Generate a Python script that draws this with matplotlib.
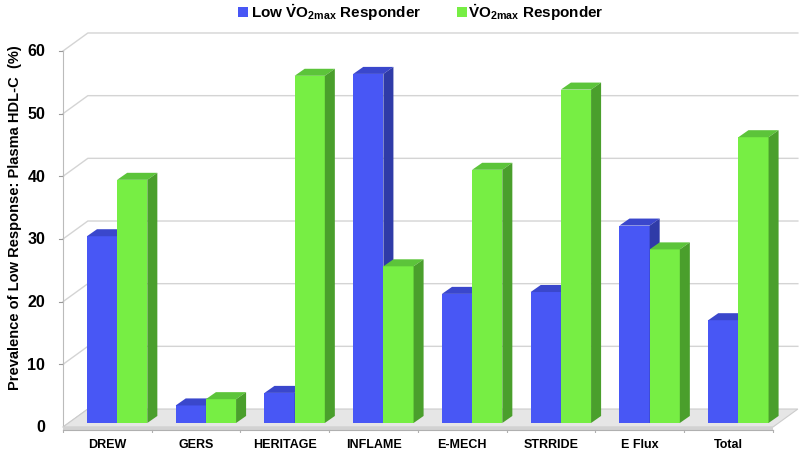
import matplotlib
matplotlib.use("Agg")
import matplotlib.pyplot as plt
from matplotlib.patches import Polygon, Rectangle

plt.rcParams['font.family'] = ['Liberation Sans', 'DejaVu Sans']
plt.rcParams['mathtext.fontset'] = 'custom'
plt.rcParams['mathtext.rm'] = 'Liberation Sans:bold'
plt.rcParams['mathtext.bf'] = 'Liberation Sans:bold'
plt.rcParams['mathtext.it'] = 'Liberation Sans:bold'

studies = ['DREW', 'GERS', 'HERITAGE', 'INFLAME', 'E-MECH', 'STRRIDE', 'E Flux', 'Total']
low_responder = [29.8, 2.8, 4.8, 55.7, 20.6, 20.9, 31.5, 16.4]
responder = [38.8, 3.8, 55.4, 25.0, 40.4, 53.2, 27.7, 45.6]
yticks = [0, 10, 20, 30, 40, 50, 60]

blue = ('#4857f5', '#3a47cc', '#2f3ba8')   # front, top, side
green = ('#77ee44', '#5cc43a', '#4a9f2c')

DX, DY = 0.28, 2.87      # depth of the floor / back wall
BDX, BDY = 0.113, 1.12   # depth of each bar
SX, SY = 0.1, 0.64       # bar offset from front edge
BW = 0.34
B0 = 0.17

fig = plt.figure(figsize=(8.12, 4.56), dpi=100)
W, H = 812, 456
x0px, xs = 63, 88.75
y0px, ys = 428, 6.267
xlim = (-0.1, 8.35)
ylim = (-1.0, 64.0)
left = x0px + xlim[0] * xs
right = x0px + xlim[1] * xs
bottom = y0px - ylim[0] * ys
top = y0px - ylim[1] * ys
ax = fig.add_axes([left / W, (H - bottom) / H, (right - left) / W, (bottom - top) / H])
ax.set_xlim(*xlim)
ax.set_ylim(*ylim)
ax.axis('off')

n = len(studies)

# gridlines on back wall
for v in yticks[1:]:
    ax.plot([0, DX, n + DX], [v, v + DY, v + DY], color='#d4d4d4', lw=1, zorder=1)
    ax.plot([-0.05, 0], [v, v], color='#999999', lw=0.8, zorder=1)
for v in yticks:
    ax.text(-0.2, v, str(v), ha='right', va='center', fontsize=11.5, fontweight='bold')
ax.plot([0, 0], [0, 60], color='#bbbbbb', lw=0.8, zorder=1)
ax.plot([0, DX], [0, DY], color='#cccccc', lw=0.8, zorder=1)

# floor slab
ax.add_patch(Polygon([(0, 0), (n, 0), (n + DX, DY), (DX, DY)], closed=True,
                     facecolor='#e6e6e6', edgecolor='#cccccc', lw=0.8, zorder=2))
ax.add_patch(Polygon([(0, -0.4), (n, -0.4), (n, 0), (0, 0)], closed=True,
                     facecolor='#d2d2d2', edgecolor='none', zorder=2))
ax.plot([0, n], [-0.4, -0.4], color='#b0b0b0', lw=0.8, zorder=2)
for i in range(n + 1):
    ax.plot([i, i], [-0.4, -1.1], color='#b0b0b0', lw=0.8, zorder=2)


def bar3d(x, h, cols):
    xb, yb = x + SX, SY
    front, topc, side = cols
    ax.add_patch(Rectangle((xb, yb), BW, h, facecolor=front, edgecolor='none', zorder=3))
    ax.add_patch(Polygon([(xb, yb + h), (xb + BW, yb + h), (xb + BW + BDX, yb + h + BDY),
                          (xb + BDX, yb + h + BDY)], closed=True,
                         facecolor=topc, edgecolor='none', zorder=3))
    ax.add_patch(Polygon([(xb + BW, yb), (xb + BW + BDX, yb + BDY), (xb + BW + BDX, yb + h + BDY),
                          (xb + BW, yb + h)], closed=True,
                         facecolor=side, edgecolor='none', zorder=3))


for i in range(n):
    bar3d(i + B0, low_responder[i], blue)
    bar3d(i + B0 + BW, responder[i], green)
    ax.text(i + 0.5, -2.7, studies[i], ha='center', va='center', fontsize=9, fontweight='bold')

fig.text(15 / W, 1 - 218 / H, 'Prevalence of Low Response: Plasma HDL-C  (%)', rotation=90,
         ha='center', va='center', fontsize=10.5, fontweight='bold')

# legend
fig.patches.append(Rectangle((238 / W, 1 - 18 / H), 10 / W, 10 / H, transform=fig.transFigure,
                             facecolor=blue[0], edgecolor='none'))
fig.text(251 / W, 1 - 13 / H, r'Low $\dot{\mathrm{V}}\mathrm{O}_{\mathrm{2max}}$ Responder',
         ha='left', va='center', fontsize=11, fontweight='bold')
fig.patches.append(Rectangle((457 / W, 1 - 18 / H), 10 / W, 10 / H, transform=fig.transFigure,
                             facecolor=green[0], edgecolor='none'))
fig.text(468 / W, 1 - 13 / H, r'$\dot{\mathrm{V}}\mathrm{O}_{\mathrm{2max}}$ Responder',
         ha='left', va='center', fontsize=11, fontweight='bold')

fig.savefig('out.png', dpi=100)
